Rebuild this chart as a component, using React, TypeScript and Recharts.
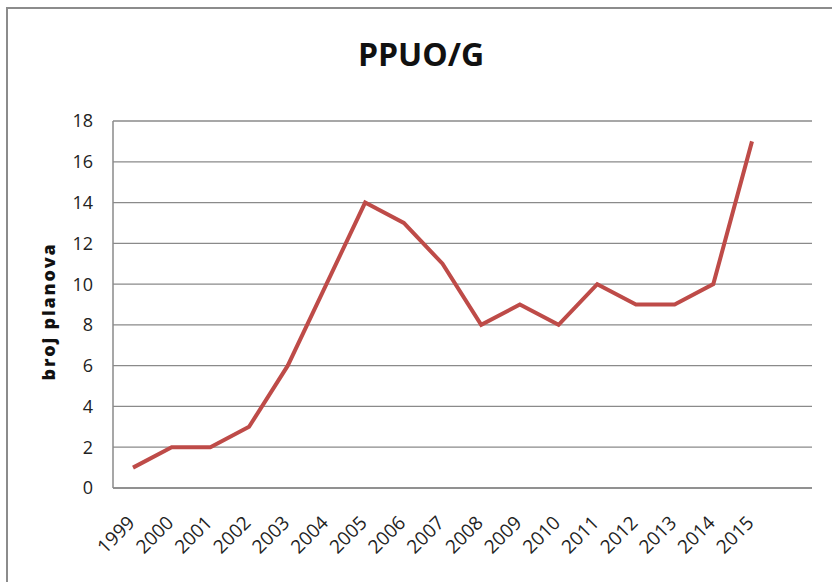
import React from 'react'
import { LineChart, Line, XAxis, YAxis, CartesianGrid } from 'recharts'

const YEARS = ['1999', '2000', '2001', '2002', '2003', '2004', '2005', '2006', '2007', '2008', '2009', '2010', '2011', '2012', '2013', '2014', '2015']
const PLANS = [1, 2, 2, 3, 6, 10, 14, 13, 11, 8, 9, 8, 10, 9, 9, 10, 17]
const Y_TICKS = [0, 2, 4, 6, 8, 10, 12, 14, 16, 18]

const data = YEARS.map((year, i) => ({ year, plans: PLANS[i] }))

const FONT = '"Open Sans", "DejaVu Sans", sans-serif'

function YearTick({ x, y, payload }: any) {
  const tx = x + 3
  const ty = y + 36
  return (
    <text
      x={tx}
      y={ty}
      transform={`rotate(-45, ${tx}, ${ty})`}
      textAnchor="end"
      fontSize={19}
      fontFamily={FONT}
      fill="#222"
    >
      {payload.value}
    </text>
  )
}

function AxisTitle({ viewBox }: any) {
  const cx = 48
  const cy = viewBox.y + viewBox.height / 2 + 7
  return (
    <text
      x={cx}
      y={cy}
      transform={`rotate(-90, ${cx}, ${cy})`}
      textAnchor="middle"
      dominantBaseline="central"
      fontSize={18}
      fontWeight={800}
      letterSpacing={1.8}
      fontFamily={FONT}
      fill="#111"
    >
      broj planova
    </text>
  )
}

export default function App() {
  return (
    <div style={{ position: 'absolute', left: 0, top: 0, width: 832, height: 582, background: '#fff', overflow: 'hidden' }}>
      <div
        style={{
          position: 'absolute', left: 6, top: 7, width: 840, height: 600,
          borderTop: '2px solid #8c8c8c', borderLeft: '2px solid #8c8c8c', boxSizing: 'border-box'
        }}
      />
      <div
        style={{
          position: 'absolute', left: 0, width: 842, top: 34, textAlign: 'center',
          fontFamily: FONT, fontWeight: 700, fontSize: 32, color: '#111', lineHeight: '40px'
        }}
      >
        PPUO/G
      </div>
      <div style={{ position: 'absolute', left: 0, top: 0 }}>
        <LineChart width={832} height={582} data={data} margin={{ top: 121, right: 20, bottom: 0, left: 0 }}>
          <CartesianGrid vertical={false} stroke="#8a8a8a" strokeWidth={1.3} />
          <XAxis
            dataKey="year"
            padding={{ left: 20, right: 60 }}
            axisLine={{ stroke: '#8a8a8a', strokeWidth: 1.5 }}
            tickLine={false}
            tickSize={0}
            tickMargin={0}
            interval={0}
            height={94}
            tick={<YearTick />}
          />
          <YAxis
            domain={[0, 18]}
            ticks={Y_TICKS}
            width={113}
            axisLine={{ stroke: '#8a8a8a', strokeWidth: 1.5 }}
            tickLine={false}
            tickSize={0}
            tickMargin={20}
            interval={0}
            tick={{ fontSize: 18, fontFamily: FONT, fill: '#222' }}
            label={<AxisTitle />}
          />
          <Line
            type="linear"
            dataKey="plans"
            stroke="#be4b48"
            strokeWidth={4}
            dot={false}
            isAnimationActive={false}
          />
        </LineChart>
      </div>
    </div>
  )
}
